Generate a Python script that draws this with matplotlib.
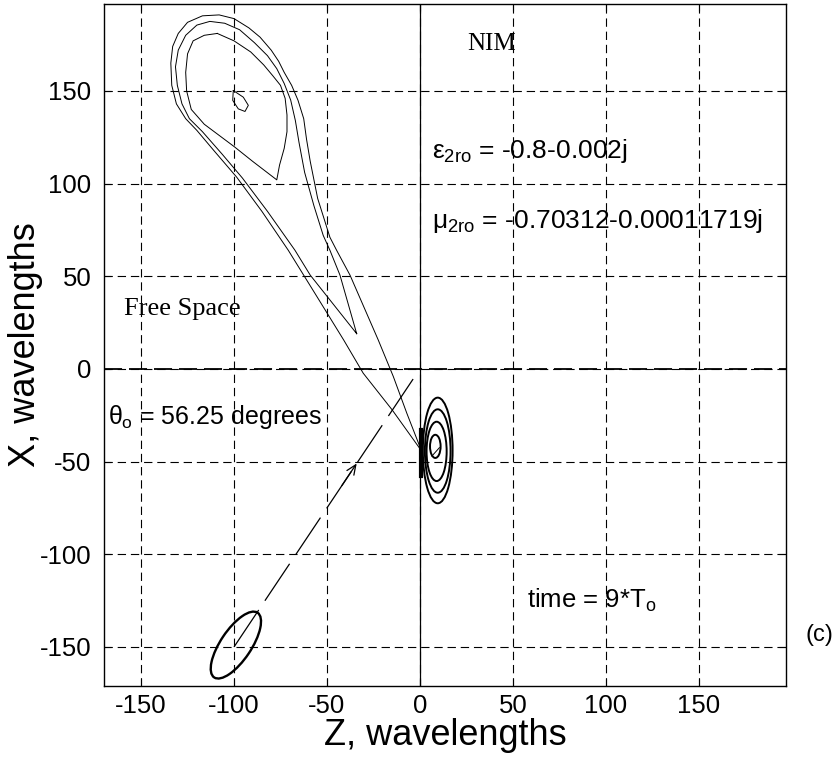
import matplotlib
matplotlib.use('Agg')
from matplotlib import pyplot as plt
from matplotlib.patches import Ellipse

plt.rcParams['font.family'] = ['Liberation Sans', 'DejaVu Sans']
plt.rcParams['mathtext.fontset'] = 'custom'
plt.rcParams['mathtext.rm'] = 'Liberation Sans'
plt.rcParams['mathtext.it'] = 'Liberation Sans'
plt.rcParams['mathtext.sf'] = 'Liberation Sans'
plt.rcParams['lines.scale_dashes'] = False

grid_ticks = [-150, -100, -50, 0, 50, 100, 150]
tick_labels = ['-150', '-100', '-50', '0', '50', '100', '150']
z_limits = (-170, 197)
x_limits = (-171, 197)

# reflected beam: three contour levels (z, x in wavelengths)
outer_z = [0, -15, -30.5, -41, -56, -70.8, -85, -98.6, -111, -120, -126, -131, -133.5, -134, -133, -130,
           -125, -117, -108, -100, -92, -86, -80, -76, -73, -69, -65.6, -62.5, -61, -59, -55, -48.4,
           -44.8, -37.6, -22.4, -14.3, -7, 0]
outer_x = [-43, -22, -2.3, 15.6, 40, 64, 85, 103.5, 118, 128.7, 135, 143, 153, 165, 174, 181,
           187, 190.5, 191, 189, 184, 179, 172, 166, 160, 153, 145, 135, 124, 112, 92, 71,
           64, 50.6, 15.6, -4.1, -24, -42]

middle_z = [-34, -59, -67.2, -82, -95.5, -106.5, -117, -124, -128, -130.5, -131.5, -130, -126, -120,
            -113, -105, -97, -89, -82, -77, -73, -69.5, -67, -65, -62, -57, -52, -48.4, -43, -34]
middle_x = [19, 50.6, 64, 85, 103, 116, 128, 135, 143, 153, 163, 172, 180, 185.5,
            187.5, 186.5, 183, 176, 169, 162, 154, 145, 134, 122, 106, 88, 72, 64, 50.6, 19]

inner_z = [-109, -116, -122, -125, -126, -125.5, -123, -116, -108, -100, -90, -77, -75.5, -73, -71.5,
           -71.5, -72.5, -75, -79, -84, -91, -100, -109]
inner_x = [181, 180, 177, 170, 160, 150, 140, 132, 126, 120, 112, 102, 110, 119, 128,
           137, 146, 153, 158, 164, 171, 177, 181]

peak_z = [-100.4, -95, -92.3, -94.1, -97.7, -100.7, -100.4]
peak_x = [150.2, 146.6, 142.2, 138.9, 140.3, 144.9, 150.2]

# transmitted field near the interface: centre z, centre x, width, height
ring_cz = [9.6, 9.6, 9.0, 8.3]
ring_cx = [-44, -44.3, -44.5, -41.8]
ring_w = [16, 13.8, 10.8, 5.7]
ring_h = [57, 45, 32, 12.5]

# incident beam
beam_center = (-99, -149)
beam_size = (42, 16.5)
beam_angle = 56.25
ray_z = [-100, 0]
ray_x = [-150, 0]

fig = plt.figure(figsize=(8.38, 7.57), dpi=100)
ax = fig.add_axes([0.124, 0.094, 0.814, 0.901])

ax.set_xlim(*z_limits)
ax.set_ylim(*x_limits)
ax.set_xticks(grid_ticks)
ax.set_yticks(grid_ticks)
ax.set_xticklabels(tick_labels)
ax.set_yticklabels(tick_labels)
ax.tick_params(direction='in', length=5, width=0.8, labelsize=18.5, top=True, right=True)
ax.tick_params(axis='y', pad=9)
ax.tick_params(axis='x', pad=6)
ax.grid(True, color='black', linestyle=(0, (6, 3.5)), linewidth=0.8)
for sp in ax.spines.values():
    sp.set_linewidth(1.0)

# interface and zero line
ax.axvline(0, color='black', lw=0.9)
ax.axhline(0, color='black', lw=1.3, linestyle=(0, (13, 5)))

for zs, xs in [(outer_z, outer_x), (middle_z, middle_x), (inner_z, inner_x), (peak_z, peak_x)]:
    ax.plot(zs, xs, color='black', lw=0.7)

for cz, cx, w, h in zip(ring_cz, ring_cx, ring_w, ring_h):
    ax.add_patch(Ellipse((cz, cx), w, h, fill=False, edgecolor='black', lw=1.4))
ax.plot([0.8, 0.8], [-33, -58], color='black', lw=3)
ax.plot([6.5, 10.5], [-47, -42.5], color='black', lw=0.7)

ax.add_patch(Ellipse(beam_center, beam_size[0], beam_size[1], angle=beam_angle,
                     fill=False, edgecolor='black', lw=1.7))
ax.plot(ray_z, ray_x, color='black', lw=0.9, linestyle=(0, (32, 8)))
ax.annotate('', xy=(-34, -51), xytext=(-42, -63),
            arrowprops=dict(arrowstyle='->,head_length=0.7,head_width=0.3', color='black',
                            lw=0.9, shrinkA=0, shrinkB=0))

serif = ['Liberation Serif', 'DejaVu Serif']
ax.text(25.3, 172, 'NIM', family=serif, fontsize=18)
ax.text(-159.4, 29, 'Free Space', family=serif, fontsize=19)
ax.text(6.5, 114, r'$\varepsilon_{\mathrm{2ro}}$ = -0.8-0.002j', fontsize=19)
ax.text(6.5, 76, r'$\mu_{\mathrm{2ro}}$ = -0.70312-0.00011719j', fontsize=19)
ax.text(-168, -29.6, r'$\theta_{\mathrm{o}}$ = 56.25 degrees', fontsize=18)
ax.text(57.5, -129, r'time = 9*T$_{\mathrm{o}}$', fontsize=18.5)

ax.set_xlabel('Z, wavelengths', fontsize=26, labelpad=0)
ax.set_ylabel('X, wavelengths', fontsize=26, labelpad=-2)
fig.text(0.961, 0.161, '(c)', fontsize=17, va='center')

fig.savefig('out.png', dpi=100)
